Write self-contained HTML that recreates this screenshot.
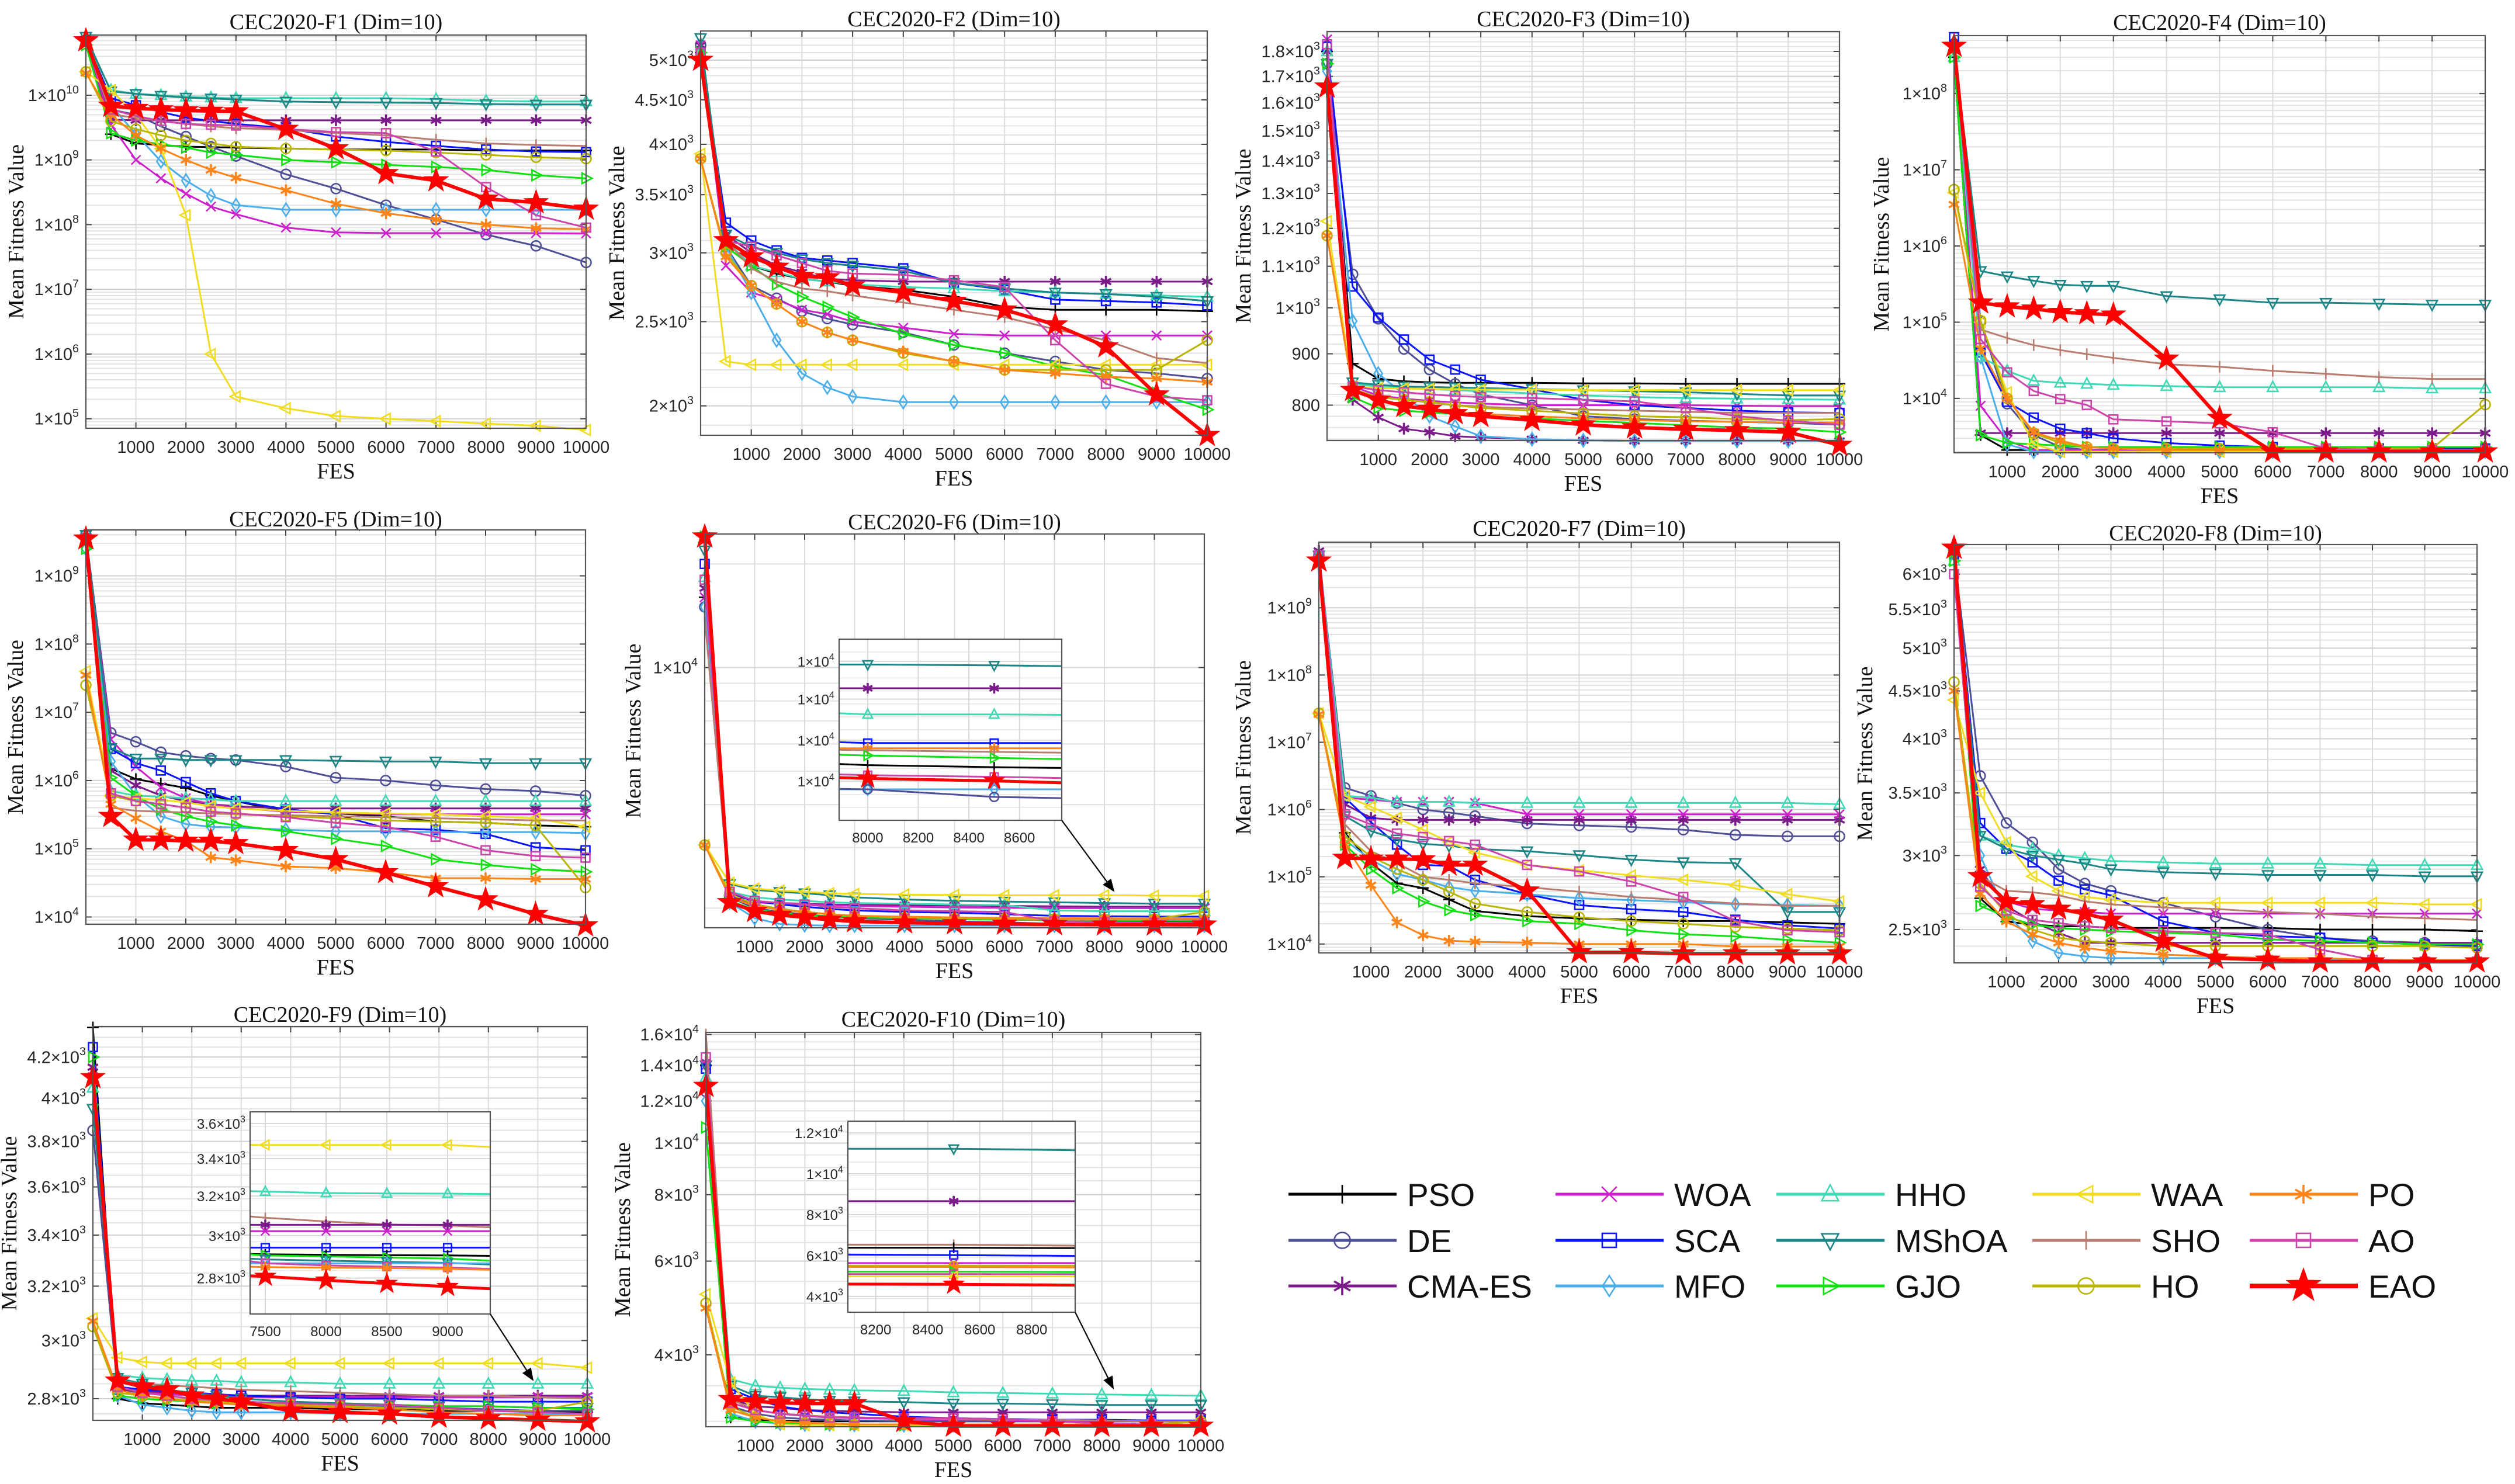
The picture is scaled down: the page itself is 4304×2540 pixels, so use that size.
<!DOCTYPE html>
<html><head><meta charset="utf-8"><title>CEC2020 convergence curves</title>
<style>
html,body{margin:0;padding:0;background:#fff;}
svg{display:block;}
</style></head>
<body>
<svg id="chart" xmlns="http://www.w3.org/2000/svg" width="4304" height="2540" viewBox="0 0 4304 2540">
<defs>
<marker id="arrowhead" markerWidth="10" markerHeight="10" refX="9" refY="5" orient="auto" markerUnits="strokeWidth"><path d="M0,1 L10,5 L0,9 z" fill="#000"/></marker>
</defs>
<rect x="0" y="0" width="4304" height="2540" fill="#fff"/>
</svg>
<script>
// ---------- shared data ----------
const fes = [0,500,1000,1500,2000,2500,3000,4000,5000,6000,7000,8000,9000,10000];
const algorithms = ['PSO','DE','CMA-ES','WOA','SCA','MFO','HHO','MShOA','GJO','WAA','SHO','HO','PO','AO','EAO'];
const xTickValues = [1000,2000,3000,4000,5000,6000,7000,8000,9000,10000];

// ---------- F1 ----------
const F1 = [
[7e10,2.5e9,1.8e9,1.7e9,1.6e9,1.58e9,1.55e9,1.5e9,1.45e9,1.45e9,1.45e9,1.4e9,1.4e9,1.4e9],
[7e10,6e9,5e9,3.3e9,2.3e9,1.6e9,1.15e9,6e8,3.6e8,2e8,1.2e8,7e7,4.7e7,2.6e7],
[7e10,4.2e9,4.1e9,4.1e9,4.1e9,4.1e9,4.1e9,4.1e9,4.1e9,4.1e9,4.1e9,4.1e9,4.1e9,4.1e9],
[7e10,3.5e9,1e9,5.2e8,3e8,1.9e8,1.45e8,9e7,7.6e7,7.4e7,7.4e7,7.4e7,7.4e7,7.3e7],
[7e10,9e9,7e9,5.5e9,4.5e9,4e9,3.6e9,3.1e9,2.3e9,1.9e9,1.65e9,1.45e9,1.35e9,1.32e9],
[7e10,7e9,2.5e9,9.5e8,4.8e8,2.8e8,2e8,1.7e8,1.7e8,1.7e8,1.7e8,1.7e8,1.7e8,1.7e8],
[7e10,1.2e10,1.05e10,1e10,9.5e9,9.2e9,9e9,9e9,9e9,9e9,8.7e9,8.2e9,8e9,8e9],
[8e10,1.15e10,1.05e10,9.8e9,9.2e9,8.9e9,8.6e9,8e9,7.8e9,7.7e9,7.6e9,7.3e9,7.2e9,7.2e9],
[6e10,2.6e9,2e9,1.75e9,1.55e9,1.3e9,1.2e9,1e9,9.2e8,8.4e8,7.8e8,7e8,5.8e8,5.2e8],
[2.3e10,1.2e10,5e9,1.5e9,1.4e8,1e6,2.2e5,1.45e5,1.1e5,1e5,9.2e4,8.4e4,7.8e4,6.7e4],
[7e10,5e9,4.5e9,4e9,3.6e9,3.3e9,3.1e9,2.9e9,2.6e9,2.4e9,2.05e9,1.8e9,1.7e9,1.65e9],
[2.3e10,4e9,3e9,2.4e9,2e9,1.8e9,1.6e9,1.5e9,1.45e9,1.4e9,1.3e9,1.2e9,1.1e9,1.05e9],
[2.2e10,5e9,2.4e9,1.5e9,1e9,7e8,5.3e8,3.4e8,2.1e8,1.5e8,1.2e8,1e8,8.8e7,8.5e7],
[7e10,6e9,4.8e9,4e9,3.6e9,3.5e9,3.4e9,3e9,2.7e9,2.6e9,1.35e9,3.8e8,1.4e8,9e7],
[7e10,6.8e9,6.3e9,6e9,5.8e9,5.7e9,5.6e9,3e9,1.5e9,6.2e8,4.8e8,2.5e8,2.2e8,1.75e8]];
const F1_yticks = [1e5,1e6,1e7,1e8,1e9,1e10];
const F1_ylabels = ['1×10^5','1×10^6','1×10^7','1×10^8','1×10^9','1×10^10'];

// ---------- F2 ----------
const F2 = [
[5100,3100,2900,2840,2800,2780,2750,2720,2670,2600,2580,2580,2580,2570],
[5200,3050,2750,2660,2570,2520,2480,2430,2350,2300,2250,2200,2180,2150],
[5200,3150,3000,2900,2850,2800,2790,2780,2780,2780,2780,2780,2780,2780],
[5200,2900,2700,2650,2580,2550,2500,2460,2420,2410,2410,2410,2410,2410],
[5100,3250,3100,3020,2960,2940,2920,2880,2770,2720,2650,2640,2630,2610],
[5100,3050,2700,2380,2180,2100,2050,2020,2020,2020,2020,2020,2020,2020],
[5100,3100,2900,2850,2800,2780,2760,2740,2730,2710,2700,2690,2680,2670],
[5300,3150,3050,3000,2950,2920,2900,2860,2770,2730,2700,2690,2670,2640],
[5100,3050,2900,2760,2670,2600,2530,2420,2350,2300,2220,2170,2070,1980],
[3900,2250,2230,2230,2230,2230,2230,2230,2230,2230,2230,2230,2230,2230],
[5100,3100,2880,2780,2730,2710,2680,2630,2580,2530,2450,2380,2270,2240],
[3850,3000,2750,2620,2500,2430,2380,2300,2250,2200,2200,2200,2200,2380],
[3850,2970,2750,2620,2500,2430,2380,2310,2250,2200,2180,2160,2150,2130],
[5100,3100,3050,2980,2920,2860,2840,2830,2790,2740,2380,2120,2050,2030],
[5000,3100,2970,2890,2820,2810,2750,2700,2640,2580,2480,2340,2060,1850]];
const F2_yticks = [2000,2500,3000,3500,4000,4500,5000];
const F2_ylabels = ['2×10^3','2.5×10^3','3×10^3','3.5×10^3','4×10^3','4.5×10^3','5×10^3'];

// ---------- F3 ----------
const F3 = [
[1800,880,850,845,843,842,842,842,841,841,840,840,840,840],
[1750,1080,975,910,868,840,820,800,780,775,772,770,768,765],
[1800,810,778,758,752,745,743,740,738,737,737,737,737,737],
[1850,835,818,812,808,805,803,800,800,800,800,799,798,798],
[1820,1050,978,930,888,868,848,830,810,800,795,790,787,786],
[1720,970,860,820,780,762,745,740,738,737,737,737,737,737],
[1800,840,835,832,830,828,826,822,818,815,813,812,811,810],
[1750,843,838,835,834,833,832,830,828,826,824,821,818,818],
[1750,815,795,790,787,784,780,776,772,768,764,760,758,752],
[1220,835,832,831,830,830,829,829,828,828,828,828,828,828],
[1780,825,815,810,805,800,797,794,792,790,788,786,786,786],
[1180,830,815,810,806,800,795,790,785,780,778,775,773,775],
[1180,830,808,798,793,788,784,780,776,773,771,770,769,769],
[1830,835,828,824,820,817,815,813,810,807,795,780,772,765],
[1660,828,810,798,793,785,780,773,765,760,757,755,752,730]];
const F3_yticks = [800,900,1000,1100,1200,1300,1400,1500,1600,1700,1800];
const F3_ylabels = ['800','900','1×10^3','1.1×10^3','1.2×10^3','1.3×10^3','1.4×10^3','1.5×10^3','1.6×10^3','1.7×10^3','1.8×10^3'];

// ---------- F4 ----------
const F4 = [
[3e8,3300,2100,2100,2100,2100,2100,2100,2100,2100,2100,2100,2100,2100],
[4.5e8,1e5,8500,3300,2300,2100,2100,2100,2100,2100,2100,2100,2100,2100],
[4e8,3500,3500,3500,3500,3500,3500,3500,3500,3500,3500,3500,3500,3500],
[4e8,8000,2800,2100,2100,2100,2100,2100,2100,2100,2100,2100,2100,2100],
[5.5e8,4e4,9000,5600,4000,3500,3000,2600,2400,2300,2200,2200,2200,2200],
[4e8,3.5e4,2500,2000,2000,2000,2000,2000,2000,2000,2000,2000,2000,2000],
[3e8,3.5e4,2.3e4,1.7e4,1.6e4,1.55e4,1.5e4,1.45e4,1.4e4,1.4e4,1.4e4,1.4e4,1.35e4,1.35e4],
[4e8,4.7e5,4e5,3.5e5,3.1e5,3e5,3e5,2.2e5,2e5,1.8e5,1.8e5,1.75e5,1.7e5,1.7e5],
[3e8,3300,2600,2500,2400,2300,2300,2300,2300,2300,2300,2300,2300,2300],
[5e6,1e5,1.2e4,2500,2000,2000,2000,2000,2000,2000,2000,2000,2000,2000],
[4e8,8e4,6.2e4,5e4,4.3e4,3.8e4,3.4e4,2.8e4,2.6e4,2.3e4,2.1e4,1.9e4,1.8e4,1.8e4],
[5.5e6,1.05e5,1e4,3500,2600,2300,2200,2200,2200,2200,2200,2200,2200,8300],
[3.5e6,4.5e4,1e4,3600,2800,2300,2200,2100,2100,2100,2100,2100,2100,2100],
[4e8,6e4,2.2e4,1.25e4,9800,8200,5300,5000,4700,3600,2200,2100,2100,2100],
[4.2e8,1.8e5,1.6e5,1.5e5,1.35e5,1.3e5,1.25e5,3.3e4,5500,2000,2000,2000,2000,2000]];
const F4_yticks = [1e4,1e5,1e6,1e7,1e8];
const F4_ylabels = ['1×10^4','1×10^5','1×10^6','1×10^7','1×10^8'];

// ---------- F5 ----------
const F5 = [
[3.5e9,1.5e6,1.05e6,9e5,7.8e5,6e5,5e5,3.5e5,3.3e5,3e5,2.5e5,2.4e5,2.2e5,2.1e5],
[4e9,5e6,3.7e6,2.6e6,2.3e6,2.1e6,2e6,1.6e6,1.1e6,1e6,8.5e5,7.5e5,7e5,6e5],
[3.5e9,1.4e6,8.5e5,6e5,5e5,4.5e5,4.2e5,3.9e5,3.9e5,3.9e5,3.9e5,3.9e5,3.9e5,3.9e5],
[3.5e9,4e6,1.6e6,8e5,5.5e5,4.5e5,4e5,3.5e5,3.3e5,3.2e5,3.2e5,3.2e5,3.2e5,3.2e5],
[3.5e9,2.9e6,1.8e6,1.4e6,9.5e5,6.5e5,5e5,3.8e5,3.2e5,2e5,1.9e5,1.65e5,1.05e5,9.5e4],
[2.5e9,1.9e6,6e5,3e5,2.3e5,2.1e5,2.05e5,1.9e5,1.8e5,1.8e5,1.75e5,1.75e5,1.75e5,1.7e5],
[3.5e9,7e5,6e5,5.8e5,5.5e5,5.3e5,5e5,5e5,5e5,5e5,5e5,5e5,5e5,5e5],
[4e9,3e6,2.1e6,2.1e6,2e6,2e6,2e6,2e6,1.95e6,1.9e6,1.9e6,1.8e6,1.8e6,1.8e6],
[2.5e9,1.1e6,6e5,3.8e5,3e5,2.5e5,2.2e5,1.8e5,1.4e5,1.1e5,7e4,5.8e4,5e4,4.6e4],
[4e7,6e5,5.5e5,5.2e5,4.8e5,4.2e5,3.9e5,3.6e5,3.4e5,3.3e5,3.2e5,3e5,2.8e5,2.1e5],
[3.5e9,4e5,3.6e5,3.5e5,3.4e5,3.3e5,3.2e5,3.1e5,3e5,2.9e5,2.8e5,2.7e5,2.6e5,2.6e5],
[2.5e7,6e5,5e5,4.5e5,4e5,3.5e5,3.2e5,3e5,2.8e5,2.6e5,2.5e5,2.4e5,2.2e5,2.7e4],
[3.5e7,4.5e5,2.8e5,1.8e5,1.3e5,7.5e4,6.8e4,5.5e4,5.2e4,4.5e4,3.7e4,3.7e4,3.6e4,3.6e4],
[3.5e9,6.5e5,5e5,4.5e5,4e5,3.5e5,3.3e5,2.9e5,2.4e5,2.1e5,1.5e5,9.5e4,7.8e4,7.4e4],
[3.5e9,3e5,1.35e5,1.35e5,1.3e5,1.3e5,1.2e5,9.5e4,7e4,4.5e4,2.8e4,1.8e4,1.1e4,7.5e3]];
const F5_yticks = [1e4,1e5,1e6,1e7,1e8,1e9];
const F5_ylabels = ['1×10^4','1×10^5','1×10^6','1×10^7','1×10^8','1×10^9'];

// ---------- F6 ----------
const F6 = [
[1.6e4,2180,2050,1990,1950,1920,1900,1880,1870,1860,1850,1840,1830,1825],
[1.5e4,2150,2000,1950,1920,1890,1870,1850,1830,1820,1800,1790,1780,1775],
[1.7e4,2200,2100,2070,2060,2050,2045,2040,2035,2030,2025,2020,2020,2020],
[1.6e4,2150,2080,2060,2050,2040,2030,2020,2010,2005,2000,2000,2000,2000],
[2.0e4,2200,2100,2050,2020,1990,1970,1950,1940,1920,1900,1895,1890,1890],
[1.5e4,2080,1870,1800,1785,1780,1780,1780,1780,1780,1780,1780,1780,1780],
[1.83e4,2230,2150,2120,2100,2080,2070,2060,2050,2040,1970,1960,1960,1960],
[2.19e4,2350,2260,2230,2210,2180,2150,2120,2100,2090,2080,2070,2060,2060],
[2.4e4,2100,1980,1940,1910,1890,1880,1870,1860,1850,1845,1840,1840,1835],
[3050,2370,2280,2250,2230,2210,2200,2190,2185,2180,2180,2180,2175,2170],
[1.4e4,2150,2030,1980,1950,1920,1900,1880,1870,1860,1855,1850,1850,1850],
[3050,2200,2050,1990,1950,1920,1900,1880,1870,1860,1860,1860,1860,1950],
[3050,2150,2030,1980,1950,1920,1900,1890,1880,1875,1870,1870,1865,1865],
[1.8e4,2230,2100,2070,2050,2020,2000,1970,1960,1950,1830,1820,1815,1810],
[2.4e4,2080,1960,1910,1880,1850,1830,1815,1805,1800,1795,1790,1790,1790]];
const F6_yticks = [1e4];
const F6_ylabels = ['1×10^4'];
const F6_inset_x = [7887,8000,8500,8767];
const F6_inset_series = [7,2,6,4,12,10,8,0,13,14,5,1];
const F6_inset_values = [
[2137,2137,2135,2133],[2078,2078,2078,2078],[2016,2013,2013,2012],[1944,1942,1942,1942],
[1929,1929,1929,1929],[1925,1924,1920,1918],[1913,1911,1905,1902],[1890,1887,1882,1880],
[1864,1862,1858,1855],[1856,1854,1848,1843],[1827,1827,1827,1827],[1828,1827,1808,1805]];
const F6_inset_xticks = [8000,8200,8400,8600];
const F6_inset_yticks = [2145,2051,1949,1847];
const F6_inset_ylabels = ['1×10^4','1×10^4','1×10^4','1×10^4'];

// ---------- F7 ----------
const F7 = [
[5e9,4.5e5,1.6e5,8e4,6.8e4,4.6e4,3.1e4,2.6e4,2.4e4,2.3e4,2.2e4,2.2e4,2.1e4,2e4],
[6e9,2.1e6,1.6e6,1.25e6,1e6,9e5,8e5,6.2e5,5.8e5,5.5e5,5e5,4.2e5,4e5,4e5],
[7e9,1.2e6,7.5e5,7e5,7e5,7e5,7e5,7e5,7e5,7e5,7e5,7e5,7e5,7e5],
[6e9,1.5e6,1.4e6,1.3e6,1.3e6,1.3e6,1.25e6,8.5e5,8.5e5,8.5e5,8.5e5,8.5e5,8.5e5,8.5e5],
[6e9,1.5e6,6.5e5,3e5,1.5e5,1.45e5,9e4,5.5e4,3.8e4,3.3e4,3e4,2.3e4,1.9e4,1.7e4],
[6e9,3.5e5,1.8e5,1.1e5,9e4,7e4,6.2e4,5.5e4,4.8e4,4.5e4,4.2e4,3.9e4,3.8e4,3.7e4],
[6e9,1.6e6,1.5e6,1.3e6,1.3e6,1.3e6,1.25e6,1.25e6,1.25e6,1.25e6,1.25e6,1.25e6,1.25e6,1.2e6],
[6e9,8e5,4.8e5,3.6e5,3.1e5,2.9e5,2.6e5,2.4e5,2.1e5,1.8e5,1.65e5,1.6e5,3e4,3e4],
[5e9,3e5,1.3e5,6.8e4,4.3e4,3.2e4,2.7e4,2.2e4,2e4,1.6e4,1.4e4,1.3e4,1.15e4,1.05e4],
[2.7e7,1.6e6,1.1e6,7.5e5,5e5,3.3e5,2.3e5,1.5e5,1.25e5,1.05e5,9e4,7.5e4,5.5e4,4.3e4],
[6e9,6e5,2.4e5,1.6e5,1e5,9e4,8e4,7e4,6e4,5e4,4.5e4,4e4,3.7e4,3.7e4],
[2.7e7,4e5,2e5,1.3e5,9e4,6e4,4e4,3e4,2.5e4,2.2e4,2e4,1.8e4,1.7e4,1.6e4],
[2.6e7,3e5,7.5e4,2.1e4,1.35e4,1.12e4,1.08e4,1.05e4,1e4,1e4,1e4,9.2e3,9.2e3,9.2e3],
[6e9,8.5e5,6e5,4.4e5,3.9e5,3.4e5,3e5,1.5e5,1.2e5,8.5e4,5e4,2.2e4,1.6e4,1.5e4],
[5e9,1.9e5,1.85e5,1.85e5,1.8e5,1.5e5,1.5e5,6.2e4,7.5e3,7.5e3,7.2e3,7.2e3,7.2e3,7.2e3]];
const F7_yticks = [1e4,1e5,1e6,1e7,1e8,1e9];
const F7_ylabels = ['1×10^4','1×10^5','1×10^6','1×10^7','1×10^8','1×10^9'];

// ---------- F8 ----------
const F8 = [
[6300,2700,2550,2530,2520,2520,2510,2510,2510,2510,2500,2500,2500,2490],
[6300,3650,3250,3100,2900,2800,2750,2670,2580,2500,2450,2430,2420,2410],
[6300,2900,2650,2550,2480,2420,2420,2420,2420,2420,2420,2420,2420,2420],
[6300,2850,2680,2630,2620,2610,2600,2600,2600,2600,2600,2600,2600,2600],
[6300,3250,3050,2950,2820,2760,2720,2550,2480,2460,2450,2420,2410,2400],
[6300,3000,2600,2430,2360,2340,2330,2330,2330,2320,2320,2320,2320,2320],
[6200,3150,3080,3050,3000,2980,2960,2950,2940,2940,2940,2930,2930,2930],
[6300,3150,3050,3000,2970,2940,2900,2880,2870,2860,2860,2860,2850,2850],
[6200,2650,2580,2530,2510,2500,2490,2480,2470,2440,2430,2420,2410,2410],
[4400,3500,3100,2850,2750,2710,2690,2670,2670,2670,2670,2670,2660,2660],
[6300,2850,2750,2740,2720,2680,2660,2640,2630,2610,2600,2580,2570,2560],
[4600,2800,2600,2500,2450,2430,2420,2400,2400,2400,2400,2400,2400,2390],
[4500,2730,2550,2470,2420,2390,2370,2350,2340,2330,2330,2320,2320,2320],
[6000,2780,2620,2560,2540,2520,2510,2490,2480,2470,2380,2320,2310,2310],
[6400,2850,2680,2660,2630,2600,2560,2430,2330,2320,2310,2310,2310,2310]];
const F8_yticks = [2500,3000,3500,4000,4500,5000,5500,6000];
const F8_ylabels = ['2.5×10^3','3×10^3','3.5×10^3','4×10^3','4.5×10^3','5×10^3','5.5×10^3','6×10^3'];

// ---------- F9 ----------
const F9 = [
[4350,2800,2785,2780,2775,2770,2770,2770,2765,2765,2760,2760,2760,2755],
[3850,2830,2820,2810,2800,2795,2790,2785,2780,2775,2770,2765,2760,2760],
[4150,2830,2825,2820,2815,2810,2810,2810,2810,2810,2810,2810,2810,2810],
[4100,2840,2820,2815,2810,2810,2805,2805,2805,2805,2805,2805,2805,2805],
[4250,2840,2830,2825,2820,2815,2810,2805,2800,2800,2795,2790,2790,2790],
[4100,2810,2780,2770,2760,2755,2755,2755,2750,2750,2750,2750,2750,2750],
[4050,2880,2870,2865,2860,2860,2855,2855,2850,2850,2850,2850,2850,2850],
[3950,2870,2850,2830,2820,2810,2800,2790,2785,2780,2775,2775,2770,2770],
[4200,2810,2800,2795,2790,2785,2785,2780,2780,2780,2775,2775,2770,2765],
[3080,2940,2925,2920,2920,2920,2920,2920,2920,2920,2920,2920,2920,2905],
[4100,2860,2850,2845,2840,2835,2830,2825,2820,2815,2810,2810,2805,2800],
[3050,2820,2810,2800,2795,2790,2785,2780,2775,2770,2765,2760,2760,2790],
[3070,2830,2810,2800,2790,2785,2780,2775,2770,2765,2755,2750,2745,2745],
[4100,2840,2820,2810,2800,2795,2790,2785,2780,2780,2770,2760,2755,2750],
[4100,2860,2840,2830,2810,2800,2790,2760,2755,2750,2740,2735,2730,2725]];
const F9_yticks = [2800,3000,3200,3400,3600,3800,4000,4200];
const F9_ylabels = ['2.8×10^3','3×10^3','3.2×10^3','3.4×10^3','3.6×10^3','3.8×10^3','4×10^3','4.2×10^3'];
const F9_inset_x = [7375,7500,8000,8500,9000,9351];
const F9_inset_series = [9,6,10,2,3,4,0,8,7,5,13,12,14];
const F9_inset_values = [
[3477,3477,3477,3477,3477,3465],[3225,3223,3215,3213,3212,3210],[3095,3088,3070,3055,3050,3041],
[3053,3053,3053,3053,3053,3053],[3022,3022,3022,3022,3022,3022],[2942,2942,2942,2942,2942,2942],
[2912,2910,2908,2906,2905,2903],[2910,2905,2900,2895,2890,2880],[2890,2886,2880,2875,2870,2862],
[2868,2868,2868,2868,2868,2868],[2878,2868,2858,2852,2848,2842],[2852,2850,2848,2846,2842,2838],
[2810,2807,2790,2775,2761,2752]];
const F9_inset_xticks = [7500,8000,8500,9000];
const F9_inset_yticks = [2800,3000,3200,3400,3600];
const F9_inset_ylabels = ['2.8×10^3','3×10^3','3.2×10^3','3.4×10^3','3.6×10^3'];

// ---------- F10 ----------
const F10 = [
[1.4e4,3050,3020,3010,3000,3000,3000,3000,3000,3000,3000,3000,3000,3000],
[1.25e4,3200,3100,3050,3030,3020,3010,3000,3000,3000,3000,3000,3000,3000],
[1.42e4,3300,3200,3180,3150,3140,3130,3120,3120,3120,3120,3120,3120,3120],
[1.4e4,3250,3150,3100,3070,3050,3040,3030,3020,3010,3000,3000,3000,3000],
[1.38e4,3450,3300,3200,3150,3120,3100,3060,3040,3030,3020,3020,3010,3010],
[1.2e4,3100,3000,2970,2960,2960,2955,2950,2950,2950,2950,2950,2950,2950],
[1.33e4,3600,3500,3470,3450,3440,3430,3420,3400,3390,3380,3370,3360,3350],
[1.4e4,3500,3350,3330,3300,3280,3270,3260,3240,3240,3230,3220,3220,3220],
[1.07e4,3050,3000,2980,2970,2960,2955,2950,2950,2950,2950,2950,2950,2950],
[5200,3550,3100,2960,2950,2950,2950,2950,2950,2950,2950,2950,2950,2950],
[1.6e4,3300,3150,3100,3080,3060,3050,3040,3030,3020,3020,3010,3000,3000],
[5000,3200,3050,3000,2980,2970,2960,2960,2960,2960,2960,2960,2960,3000],
[4900,3150,3050,3000,2980,2970,2960,2960,2960,2960,2960,2960,2960,2960],
[1.45e4,3250,3150,3100,3070,3050,3050,3040,3040,3030,3000,2970,2960,2950],
[1.28e4,3300,3270,3250,3240,3240,3240,3000,2940,2940,2940,2940,2940,2940]];
const F10_yticks = [4000,6000,8000,10000,12000,14000,16000];
const F10_ylabels = ['4×10^3','6×10^3','8×10^3','1×10^4','1.2×10^4','1.4×10^4','1.6×10^4'];
const F10_inset_x = [8093,8500,8967];
const F10_inset_series = [7,2,10,0,4,3,11,12,8,13,9,14];
const F10_inset_values = [
[11224,11224,11150],[8660,8660,8660],[6530,6530,6480],[6380,6380,6360],[6050,6020,5980],
[5630,5630,5630],[5500,5500,5500],[5440,5440,5420],[5210,5210,5190],[5090,5090,5090],
[4980,4980,4980],[4600,4590,4550]];
const F10_inset_xticks = [8200,8400,8600,8800];
const F10_inset_yticks = [4000,6000,8000,10000,12000];
const F10_inset_ylabels = ['4×10^3','6×10^3','8×10^3','1×10^4','1.2×10^4'];

// ---------- styles (not data) ----------
const colors = ['#000000','#4f4f96','#7b1b8a','#cc20cc','#0a14ff','#4aaeea','#3fd9b5','#1c8585','#10e010','#f0dc20','#b87c70','#b8b400','#ff8418','#cc44aa','#ff0000'];
const markerTypes = ['+','o','*','x','s','d','^','v','>','<','|','o','*','s','p'];

const svg = document.getElementById('chart');
const NS = 'http://www.w3.org/2000/svg';
function mk(tag, attrs, parent){
  const e = document.createElementNS(NS, tag);
  for (const k in attrs) e.setAttribute(k, attrs[k]);
  parent.appendChild(e);
  return e;
}
function labelText(parent, str, x, y, size, anchor){
  const t = mk('text', {x:x, y:y, 'font-family':'"Liberation Sans", Arial, sans-serif', 'font-size':size, fill:'#262626', 'text-anchor':anchor}, parent);
  const parts = str.split('^');
  const s1 = mk('tspan', {}, t); s1.textContent = parts[0];
  if (parts.length > 1) {
    const s2 = mk('tspan', {dy: -size*0.45, 'font-size': size*0.68}, t);
    s2.textContent = parts[1];
  }
  return t;
}
function drawMarker(g, type, x, y, color, s){
  const sw = 2.6;
  let m;
  if (type === '+') {
    m = mk('path', {d:`M${x-s},${y}H${x+s}M${x},${y-s}V${y+s}`, stroke:color, 'stroke-width':sw, fill:'none'}, g);
  } else if (type === 'x') {
    m = mk('path', {d:`M${x-s*0.8},${y-s*0.8}L${x+s*0.8},${y+s*0.8}M${x-s*0.8},${y+s*0.8}L${x+s*0.8},${y-s*0.8}`, stroke:color, 'stroke-width':sw, fill:'none'}, g);
  } else if (type === 'o') {
    m = mk('circle', {cx:x, cy:y, r:s*0.85, stroke:color, 'stroke-width':sw, fill:'none'}, g);
  } else if (type === 's') {
    m = mk('rect', {x:x-s*0.75, y:y-s*0.75, width:s*1.5, height:s*1.5, stroke:color, 'stroke-width':sw, fill:'none'}, g);
  } else if (type === 'd') {
    m = mk('path', {d:`M${x},${y-s*1.1}L${x+s*0.7},${y}L${x},${y+s*1.1}L${x-s*0.7},${y}Z`, stroke:color, 'stroke-width':sw, fill:'none'}, g);
  } else if (type === '^') {
    m = mk('path', {d:`M${x},${y-s}L${x+s*0.9},${y+s*0.7}L${x-s*0.9},${y+s*0.7}Z`, stroke:color, 'stroke-width':sw, fill:'none'}, g);
  } else if (type === 'v') {
    m = mk('path', {d:`M${x},${y+s}L${x+s*0.9},${y-s*0.7}L${x-s*0.9},${y-s*0.7}Z`, stroke:color, 'stroke-width':sw, fill:'none'}, g);
  } else if (type === '>') {
    m = mk('path', {d:`M${x+s},${y}L${x-s*0.7},${y-s*0.9}L${x-s*0.7},${y+s*0.9}Z`, stroke:color, 'stroke-width':sw, fill:'none'}, g);
  } else if (type === '<') {
    m = mk('path', {d:`M${x-s},${y}L${x+s*0.7},${y-s*0.9}L${x+s*0.7},${y+s*0.9}Z`, stroke:color, 'stroke-width':sw, fill:'none'}, g);
  } else if (type === '|') {
    m = mk('path', {d:`M${x},${y-s}V${y+s}`, stroke:color, 'stroke-width':sw, fill:'none'}, g);
  } else if (type === '*') {
    m = mk('path', {d:`M${x},${y-s}V${y+s}M${x-s*0.87},${y-s*0.5}L${x+s*0.87},${y+s*0.5}M${x-s*0.87},${y+s*0.5}L${x+s*0.87},${y-s*0.5}`, stroke:color, 'stroke-width':sw+1, fill:'none'}, g);
  } else if (type === 'p') {
    let d = '';
    for (let i = 0; i < 10; i++) {
      const r = (i % 2 === 0) ? s*1.5 : s*0.6;
      const a = -Math.PI/2 + i*Math.PI/5;
      d += (i === 0 ? 'M' : 'L') + (x + r*Math.cos(a)).toFixed(1) + ',' + (y + r*Math.sin(a)).toFixed(1);
    }
    m = mk('path', {d:d+'Z', stroke:color, 'stroke-width':1.5, fill:color}, g);
  }
  
  
}

function drawAxesFrame(g, l, r, t, b){
  const box = mk('rect', {x:l, y:t, width:r-l, height:b-t, fill:'none', stroke:'#555', 'stroke-width':2.2}, g);
  
  
}

function drawPlot(cfg, data, yticks, ylabels){
  const g = mk('g', {}, svg);
  
  
  const l = cfg.l, r = cfg.r, t = cfg.t, b = cfg.b;
  const X = v => l + v/10000*(r-l);
  const ly0 = Math.log10(cfg.ymin), ly1 = Math.log10(cfg.ymax);
  const Y = v => b - (Math.log10(v)-ly0)/(ly1-ly0)*(b-t);
  mk('rect', {x:l, y:t, width:r-l, height:b-t, fill:'#fff'}, g);
  // minor grid
  const gg = mk('g', {}, g);
  
  
  const minors = [];
  if (cfg.minor === 'log') {
    for (let e = Math.floor(ly0); e <= Math.ceil(ly1); e++)
      for (let k = 2; k <= 9; k++) minors.push(k*Math.pow(10, e));
  } else {
    for (let v = Math.ceil(cfg.ymin/cfg.minor)*cfg.minor; v <= cfg.ymax; v += cfg.minor) minors.push(v);
  }
  minors.forEach(v => {
    if (v <= cfg.ymin || v >= cfg.ymax) return;
    const yy = Y(v);
    const ln = mk('line', {x1:l, x2:r, y1:yy, y2:yy, stroke:'#e3e3e3', 'stroke-width':2}, gg);
    
    
  });
  xTickValues.forEach(v => {
    const ln = mk('line', {x1:X(v), x2:X(v), y1:t, y2:b, stroke:'#dcdcdc', 'stroke-width':2}, gg);
    
    
  });
  yticks.forEach(v => {
    const ln = mk('line', {x1:l, x2:r, y1:Y(v), y2:Y(v), stroke:'#d2d2d2', 'stroke-width':2}, gg);
    
    
  });
  // ticks
  const tk = mk('g', {stroke:'#444', 'stroke-width':2}, g);
  
  
  xTickValues.forEach(v => {
    mk('line', {x1:X(v), x2:X(v), y1:b, y2:b-10}, tk);
    mk('line', {x1:X(v), x2:X(v), y1:t, y2:t+10}, tk);
  });
  yticks.forEach(v => {
    mk('line', {x1:l, x2:l+10, y1:Y(v), y2:Y(v)}, tk);
    mk('line', {x1:r, x2:r-10, y1:Y(v), y2:Y(v)}, tk);
  });
  // tick labels
  const xl = mk('g', {}, g);
  
  
  xTickValues.forEach(v => { labelText(xl, String(v), X(v), b+42, 29, 'middle'); });
  const yl = mk('g', {}, g);
  
  
  yticks.forEach((v, i) => { labelText(yl, ylabels[i], l-12, Y(v)+10, 29, 'end'); });
  // title & axis titles
  const ti = mk('text', {x:(l+r)/2, y:cfg.ty, 'font-family':'"Liberation Serif", serif', 'font-size':38, 'text-anchor':'middle', fill:'#111'}, g);
  ti.textContent = 'CEC2020-' + cfg.id + ' (Dim=10)';
  
  
  const xt = mk('text', {x:(l+r)/2, y:b+86, 'font-family':'"Liberation Serif", serif', 'font-size':38, 'text-anchor':'middle', fill:'#111'}, g);
  xt.textContent = 'FES';
  
  
  const yx = l - cfg.yo, yy = (t+b)/2;
  const yt = mk('text', {x:yx, y:yy, transform:`rotate(-90 ${yx} ${yy})`, 'font-family':'"Liberation Serif", serif', 'font-size':38, 'text-anchor':'middle', fill:'#111'}, g);
  yt.textContent = 'Mean Fitness Value';
  
  
  // series
  const sg = mk('g', {}, g);
  
  
  data.forEach((vals, si) => {
    const s = mk('g', {}, sg);
    
    
    const pts = vals.map((v, i) => X(fes[i]).toFixed(1) + ',' + Y(v).toFixed(1)).join(' ');
    const pl = mk('polyline', {points:pts, fill:'none', stroke:colors[si], 'stroke-width': si === 14 ? 6 : 3, 'stroke-linejoin':'round'}, s);
    
    
    vals.forEach((v, i) => drawMarker(s, markerTypes[si], X(fes[i]), Y(v), colors[si], si === 14 ? 14 : 10));
  });
  drawAxesFrame(g, l, r, t, b);
  return g;
}

function drawInset(parent, cfg, xs, seriesIdx, values, xticks, yticks, ylabels, markIdx){
  const g = mk('g', {}, parent);
  
  
  const l = cfg.l, r = cfg.r, t = cfg.t, b = cfg.b;
  const X = v => l + (v-cfg.xmin)/(cfg.xmax-cfg.xmin)*(r-l);
  const f = cfg.log ? Math.log10 : (v => v);
  const Y = v => b - (f(v)-f(cfg.ymin))/(f(cfg.ymax)-f(cfg.ymin))*(b-t);
  mk('rect', {x:l, y:t, width:r-l, height:b-t, fill:'#fff'}, g);
  const n = 14;
  for (let i = 1; i < n; i++) {
    const yy = t + (b-t)*i/n;
    const ln = mk('line', {x1:l, x2:r, y1:yy, y2:yy, stroke:'#e6e6e6', 'stroke-width':1.5}, g);
    
    
  }
  xticks.forEach(v => {
    const ln = mk('line', {x1:X(v), x2:X(v), y1:t, y2:b, stroke:'#d8d8d8', 'stroke-width':2}, g);
    
    
    labelText(g, String(v), X(v), b+38, 24, 'middle');
  });
  yticks.forEach((v, i) => {
    const ln = mk('line', {x1:l, x2:r, y1:Y(v), y2:Y(v), stroke:'#d8d8d8', 'stroke-width':2}, g);
    
    
    labelText(g, ylabels[i], l-8, Y(v)+9, 24, 'end');
  });
  seriesIdx.forEach((si, k) => {
    const vals = values[k];
    const pts = vals.map((v, i) => X(xs[i]).toFixed(1) + ',' + Y(v).toFixed(1)).join(' ');
    const pl = mk('polyline', {points:pts, fill:'none', stroke:colors[si], 'stroke-width': si === 14 ? 5 : 3}, g);
    
    
    markIdx.forEach(i => drawMarker(g, markerTypes[si], X(xs[i]), Y(vals[i]), colors[si], si === 14 ? 12 : 9));
  });
  drawAxesFrame(g, l, r, t, b);
  const ar = mk('line', {x1:r, y1:b, x2:cfg.ax, y2:cfg.ay, stroke:'#000', 'stroke-width':2.2, 'marker-end':'url(#arrowhead)'}, g);
  
  
}

const plots = [
  {id:'F1', l:147, r:1003, t:60, b:733, ymin:Math.pow(10,4.853), ymax:Math.pow(10,10.93), minor:'log', ty:50, yo:107, data:F1, yt:F1_yticks, yl:F1_ylabels},
  {id:'F2', l:1199, r:2066, t:53, b:745, ymin:1850, ymax:5401, minor:100, ty:45, yo:131, data:F2, yt:F2_yticks, yl:F2_ylabels},
  {id:'F3', l:2271, r:3148, t:54, b:754, ymin:737.7, ymax:1884, minor:20, ty:45, yo:131, data:F3, yt:F3_yticks, yl:F3_ylabels},
  {id:'F4', l:3344, r:4253, t:61, b:775, ymin:Math.pow(10,3.286), ymax:Math.pow(10,8.76), minor:'log', ty:51, yo:112, data:F4, yt:F4_yticks, yl:F4_ylabels},
  {id:'F5', l:147, r:1002, t:907, b:1582, ymin:Math.pow(10,3.893), ymax:Math.pow(10,9.673), minor:'log', ty:901, yo:108, data:F5, yt:F5_yticks, yl:F5_ylabels},
  {id:'F6', l:1206, r:2061, t:914, b:1588, ymin:Math.pow(10,3.244), ymax:Math.pow(10,4.388), minor:'log', ty:906, yo:110, data:F6, yt:F6_yticks, yl:F6_ylabels},
  {id:'F7', l:2257, r:3148, t:928, b:1631, ymin:Math.pow(10,3.868), ymax:Math.pow(10,9.975), minor:'log', ty:917, yo:117, data:F7, yt:F7_yticks, yl:F7_ylabels},
  {id:'F8', l:3344, r:4239, t:932, b:1648, ymin:2303, ymax:6454, minor:100, ty:925, yo:140, data:F8, yt:F8_yticks, yl:F8_ylabels},
  {id:'F9', l:159, r:1005, t:1757, b:2431, ymin:2729, ymax:4355, minor:50, ty:1749, yo:131, data:F9, yt:F9_yticks, yl:F9_ylabels},
  {id:'F10', l:1208, r:2055, t:1767, b:2442, ymin:2930, ymax:16150, minor:500, ty:1757, yo:130, data:F10, yt:F10_yticks, yl:F10_ylabels}
];
const plotGroups = plots.map(p => drawPlot(p, p.data, p.yt, p.yl));

drawInset(plotGroups[5], {l:1436, r:1817, t:1094, b:1404, xmin:7887, xmax:8767, ymin:1750, ymax:2200, log:false, ax:1906, ay:1525},
  F6_inset_x, F6_inset_series, F6_inset_values, F6_inset_xticks, F6_inset_yticks, F6_inset_ylabels, [1,2]);
drawInset(plotGroups[8], {l:428, r:839, t:1903, b:2249, xmin:7375, xmax:9351, ymin:2641, ymax:3669, log:true, ax:912, ay:2362},
  F9_inset_x, F9_inset_series, F9_inset_values, F9_inset_xticks, F9_inset_yticks, F9_inset_ylabels, [1,2,3,4]);
drawInset(plotGroups[9], {l:1451, r:1840, t:1919, b:2246, xmin:8093, xmax:8967, ymin:3224, ymax:12575, log:false, ax:1905, ay:2376},
  F10_inset_x, F10_inset_series, F10_inset_values, F10_inset_xticks, F10_inset_yticks, F10_inset_ylabels, [1]);

// ---------- legend ----------
const legendCols = [2205,2662,3040,3478,3850];
const legendRows = [2044,2123,2201];
const lg = mk('g', {}, svg);


algorithms.forEach((name, i) => {
  const cx = legendCols[Math.floor(i/3)], cy = legendRows[i%3];
  const e = mk('g', {}, lg);
  
  
  mk('line', {x1:cx, x2:cx+185, y1:cy, y2:cy, stroke:colors[i], 'stroke-width': i === 14 ? 8 : 5}, e);
  drawMarker(e, markerTypes[i], cx+92, cy, colors[i], i === 14 ? 20 : 16);
  const t = mk('text', {x:cx+203, y:cy+20, 'font-family':'"Liberation Sans", Arial, sans-serif', 'font-size':55, fill:'#111'}, e);
  t.textContent = name;
});
</script>
</body></html>
